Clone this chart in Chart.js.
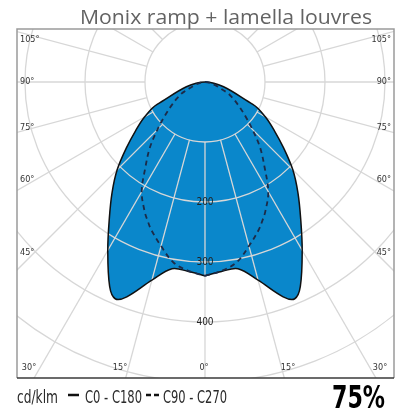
<!DOCTYPE html>
<html lang="en">
  <head>
    <meta charset="UTF-8" />
    <title>Monix ramp + lamella louvres</title>
    <style>
      html, body { margin: 0; padding: 0; background: #fff; }
      #myChart { display: block; }
    </style>
  </head>
  <body>
    <canvas id="myChart" width="405" height="412"></canvas>
    <script src="https://cdn.jsdelivr.net/npm/chart.js@4"></script>
    <script>
// angle from nadir (deg) and intensity (cd/klm); both halves symmetric
const gammaAngles = [0, 5, 10, 15, 20, 22.5, 25, 30, 35, 40, 45, 50, 55, 60, 65, 70];
const c0c180 = [323, 317, 316, 342, 381, 391, 376, 324, 278, 241, 207, 171, 141, 116, 88, 0];
const c90c270 = [323, 316, 305, 283, 262, 250, 238, 211, 173, 143, 112, 87, 68, 53, 38, 0];

const ringValues = [100, 200, 300, 400, 500, 600];
const ringLabels = [200, 300, 400];
const sideAngleLabels = ["105°", "90°", "75°", "60°", "45°"];
const bottomAngleLabels = ["30°", "15°", "0°", "15°", "30°"];

const chartTitle = "Monix ramp + lamella louvres";
const unitLabel = "cd/klm";
const c0Label = "C0 - C180";
const c90Label = "C90 - C270";
const lorLabel = "75%";

// polar -> x/y in cd/klm, nadir pointing down: right half first, then back up the left half
const toCurve = (values) => {
  const pts = [];
  for (let i = 0; i < gammaAngles.length; i++) {
    const a = gammaAngles[i] * Math.PI / 180;
    pts.push({ x: values[i] * Math.sin(a), y: -values[i] * Math.cos(a) });
  }
  for (let i = gammaAngles.length - 2; i >= 0; i--) {
    const a = gammaAngles[i] * Math.PI / 180;
    pts.push({ x: -values[i] * Math.sin(a), y: -values[i] * Math.cos(a) });
  }
  return pts;
};

const GRID = "#d7d7d7";
const FILL = "#0a87cb";
const NARROW = '"Liberation Sans Narrow", "DejaVu Sans Condensed", "Roboto", sans-serif';

const fitText = (ctx, text, x, y, width, font) => {
  ctx.font = font;
  const w = ctx.measureText(text).width;
  ctx.save();
  ctx.translate(x, y);
  ctx.scale(width / w, 1);
  ctx.fillText(text, 0, 0);
  ctx.restore();
};

const polarGrid = {
  id: "polarGrid",
  beforeDraw(chart) {
    const ctx = chart.ctx;
    ctx.save();
    ctx.fillStyle = "#fff";
    ctx.fillRect(0, 0, chart.width, chart.height);
    ctx.restore();
  },
  beforeDatasetsDraw(chart) {
    // drawn after the fill, before the outlines, so the grid shows through the blue
    const { ctx, chartArea: area, scales: { x, y } } = chart;
    const cx = x.getPixelForValue(0), cy = y.getPixelForValue(0);
    const k = Math.abs(x.getPixelForValue(100) - cx) / 100;
    ctx.save();
    ctx.beginPath();
    ctx.rect(area.left, area.top, area.right - area.left, area.bottom - area.top);
    ctx.clip();
    ctx.strokeStyle = GRID;
    ctx.lineWidth = 1.3;
    ringValues.forEach((v) => {
      ctx.beginPath();
      ctx.arc(cx, cy, v * k, 0, Math.PI * 2);
      ctx.stroke();
    });
    for (let deg = 0; deg < 360; deg += 15) {
      const a = deg * Math.PI / 180;
      const r0 = ringValues[0] * k, r1 = 1000 * k;
      ctx.beginPath();
      ctx.moveTo(cx + r0 * Math.sin(a), cy + r0 * Math.cos(a));
      ctx.lineTo(cx + r1 * Math.sin(a), cy + r1 * Math.cos(a));
      ctx.stroke();
    }
    ctx.restore();
  },
  afterDatasetsDraw(chart) {
    const { ctx, chartArea: area, scales: { x, y } } = chart;
    const cx = x.getPixelForValue(0), cy = y.getPixelForValue(0);
    const k = Math.abs(x.getPixelForValue(100) - cx) / 100;
    ctx.save();
    ctx.textBaseline = "middle";
    ctx.textAlign = "center";
    ctx.fillStyle = "#222";
    ctx.font = "10px " + NARROW;
    ringLabels.forEach((v) => ctx.fillText(String(v), cx, cy + v * k));

    ctx.fillStyle = "#333";
    ctx.font = "9px " + NARROW;
    const sideY = [40, 82, 128, 180, 253];
    sideAngleLabels.forEach((t, i) => {
      ctx.textAlign = "left";
      ctx.fillText(t, area.left + 3, sideY[i]);
      ctx.textAlign = "right";
      ctx.fillText(t, area.right - 3, sideY[i]);
    });
    const bottomX = [29, 120, 204, 288, 380];
    ctx.textAlign = "center";
    bottomAngleLabels.forEach((t, i) => ctx.fillText(t, bottomX[i], area.bottom - 10));

    // frame
    ctx.lineWidth = 1.5;
    ctx.strokeStyle = "#9a9a9a";
    ctx.beginPath();
    ctx.moveTo(area.left, area.bottom);
    ctx.lineTo(area.left, area.top);
    ctx.lineTo(area.right, area.top);
    ctx.lineTo(area.right, area.bottom);
    ctx.stroke();
    ctx.strokeStyle = "#3a3a3a";
    ctx.beginPath();
    ctx.moveTo(area.left, area.bottom);
    ctx.lineTo(area.right, area.bottom);
    ctx.stroke();
    ctx.restore();
  },
  afterDraw(chart) {
    const ctx = chart.ctx;
    ctx.save();
    ctx.textBaseline = "alphabetic";
    ctx.textAlign = "left";
    ctx.fillStyle = "#636363";
    fitText(ctx, chartTitle, 80, 24, 292, '20px "Open Sans", sans-serif');

    ctx.fillStyle = "#2a2a2a";
    fitText(ctx, unitLabel, 17, 403, 41, "18px " + NARROW);
    fitText(ctx, c0Label, 85, 403, 57, "18px " + NARROW);
    fitText(ctx, c90Label, 163, 403, 64, "18px " + NARROW);
    ctx.strokeStyle = "#111";
    ctx.lineWidth = 2.5;
    ctx.beginPath();
    ctx.moveTo(68, 395);
    ctx.lineTo(79, 395);
    ctx.moveTo(146, 395);
    ctx.lineTo(151, 395);
    ctx.moveTo(154, 395);
    ctx.lineTo(159, 395);
    ctx.stroke();

    ctx.fillStyle = "#000";
    fitText(ctx, lorLabel, 332, 408, 53, "bold 32px " + NARROW);
    ctx.restore();
  },
};

const ctx = document.getElementById("myChart").getContext("2d");
new Chart(ctx, {
  type: "scatter",
  data: {
    datasets: [
      {
        label: c90Label,
        data: toCurve(c90c270),
        showLine: true,
        fill: false,
        borderColor: "#1c2b48",
        borderWidth: 1.8,
        borderDash: [5, 4],
        tension: 0.35,
        pointRadius: 0,
      },
      {
        label: c0Label,
        data: toCurve(c0c180),
        showLine: true,
        fill: "shape",
        backgroundColor: FILL,
        borderColor: "#111",
        borderWidth: 1.5,
        tension: 0.35,
        pointRadius: 0,
      },
    ],
  },
  options: {
    responsive: false,
    animation: false,
    layout: { padding: { left: 17, right: 11, top: 29, bottom: 34 } },
    scales: {
      x: { type: "linear", min: -313.3, max: 315, display: false },
      y: { type: "linear", min: -493.3, max: 88.3, display: false },
    },
    plugins: {
      legend: { display: false },
      tooltip: { enabled: false },
      filler: { drawTime: "beforeDatasetsDraw" },
    },
  },
  plugins: [polarGrid],
});
    </script>
  </body>
</html>
